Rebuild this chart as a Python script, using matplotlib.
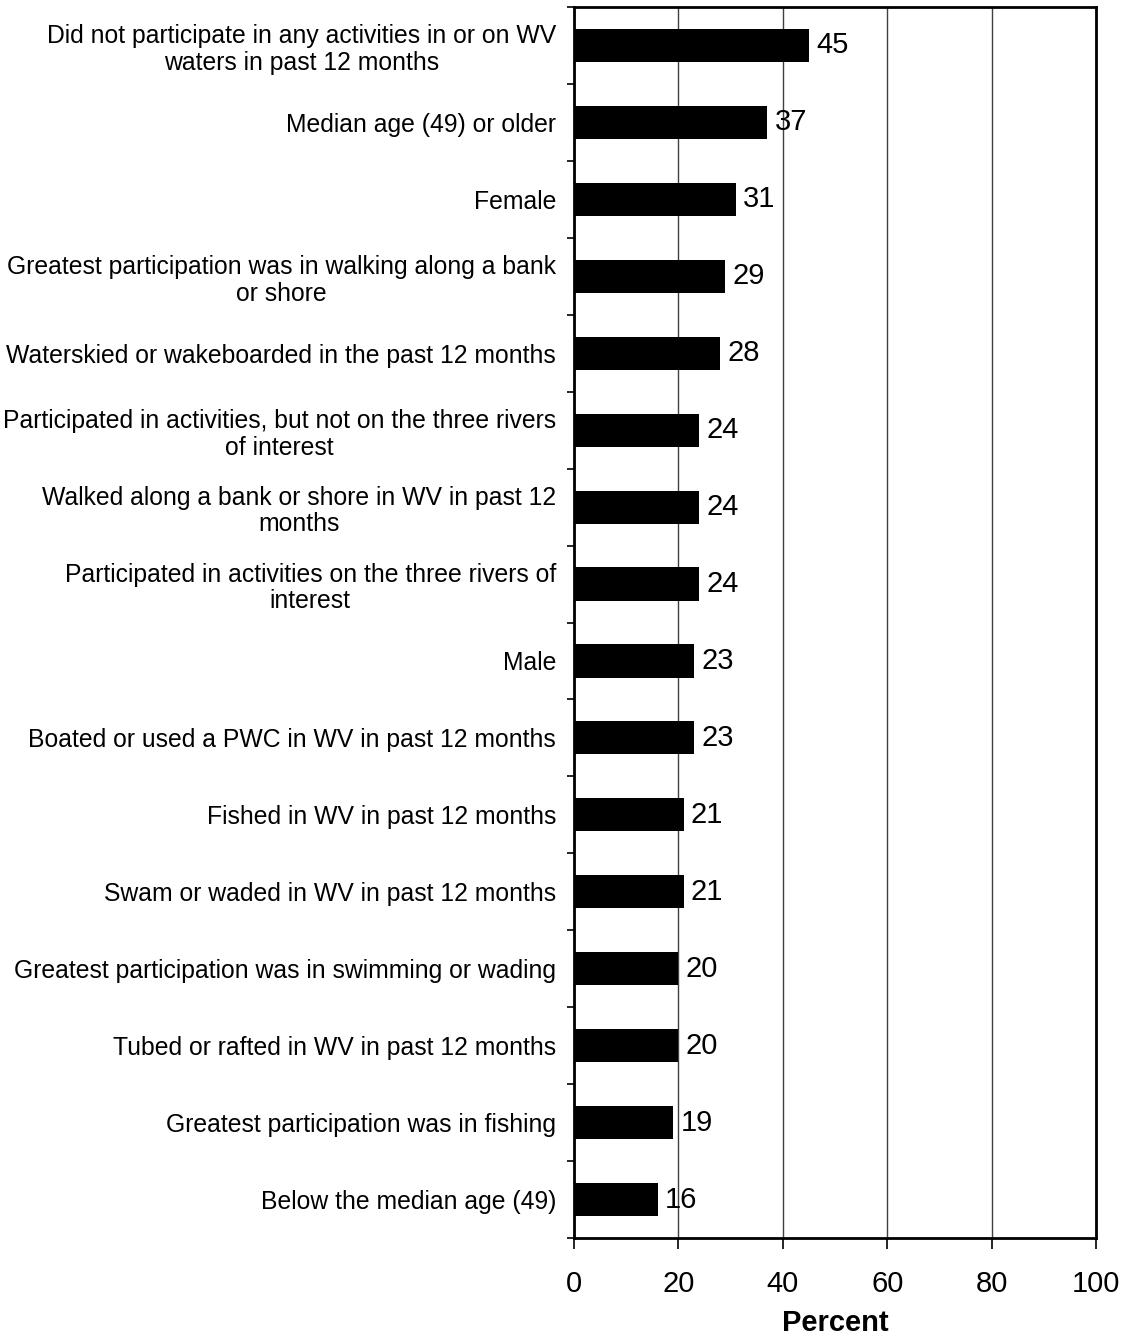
import matplotlib
matplotlib.use("Agg")
import matplotlib.pyplot as plt
import numpy as np

plt.rcParams['font.family'] = ['Liberation Sans', 'DejaVu Sans']

categories = [
    "Did not participate in any activities in or on WV\nwaters in past 12 months",
    "Median age (49) or older",
    "Female",
    "Greatest participation was in walking along a bank\nor shore",
    "Waterskied or wakeboarded in the past 12 months",
    "Participated in activities, but not on the three rivers\nof interest",
    "Walked along a bank or shore in WV in past 12\nmonths",
    "Participated in activities on the three rivers of\ninterest",
    "Male",
    "Boated or used a PWC in WV in past 12 months",
    "Fished in WV in past 12 months",
    "Swam or waded in WV in past 12 months",
    "Greatest participation was in swimming or wading",
    "Tubed or rafted in WV in past 12 months",
    "Greatest participation was in fishing",
    "Below the median age (49)",
]
values = [45, 37, 31, 29, 28, 24, 24, 24, 23, 23, 21, 21, 20, 20, 19, 16]
x_ticks = [0, 20, 40, 60, 80, 100]
x_label = "Percent"

fig = plt.figure(figsize=(11.24, 13.44), dpi=100)
ax = fig.add_axes([574/1124, 1 - 1238/1344, (1096 - 574)/1124, (1238 - 7)/1344])

n = len(categories)
pos = np.arange(n)
ax.barh(pos, values, height=0.43, color='black', zorder=3)

ax.set_xlim(0, 100)
ax.set_ylim(n - 0.5, -0.5)
ax.set_xticks(x_ticks)
ax.set_xticklabels([str(t) for t in x_ticks], fontsize=21)
ax.tick_params(axis='x', direction='out', length=8, width=1.2, pad=15)

# category boundaries carry the tick marks; labels sit at bar centres
ax.set_yticks(np.arange(-0.5, n, 1.0))
ax.set_yticklabels([])
ax.tick_params(axis='y', which='major', direction='out', length=5, width=1.2)
ax.set_yticks(pos, minor=True)
ax.set_yticklabels(categories, minor=True, fontsize=17.8, ha='right',
                   multialignment='center', linespacing=1.15)
ax.tick_params(axis='y', which='minor', length=0, pad=13)

ax.grid(axis='x', color='#404040', linewidth=1.0, zorder=0)
for s in ax.spines.values():
    s.set_linewidth(2.0)
    s.set_color('black')

for p, v in zip(pos, values):
    ax.text(v + 1.4, p, str(v), va='center', ha='left', fontsize=21, zorder=4)

ax.set_xlabel(x_label, fontsize=21, fontweight='bold', labelpad=8)

fig.savefig("out.png", dpi=100)
